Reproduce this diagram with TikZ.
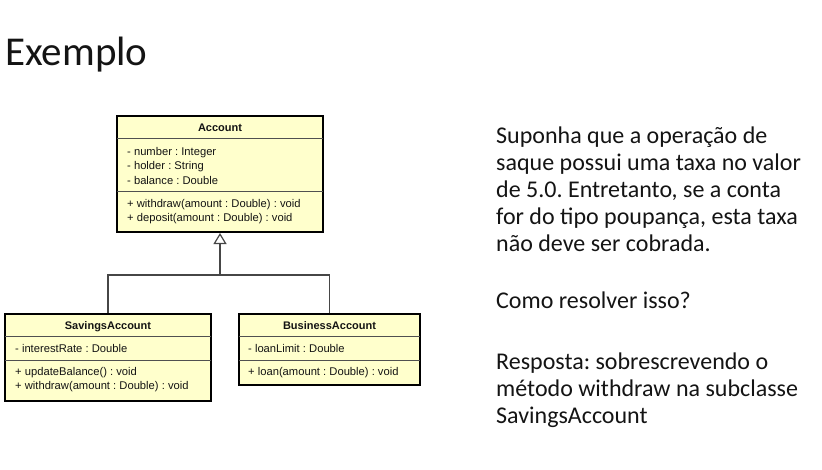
\documentclass[tikz,border=0pt]{standalone}
\usepackage{fontspec}
\setmainfont{Carlito}
\newfontfamily\umlfont{Liberation Sans}
\usetikzlibrary{arrows.meta}
\definecolor{umlfill}{RGB}{255,255,204}
\definecolor{umlsep}{RGB}{80,80,80}
\definecolor{conn}{RGB}{70,70,70}
\definecolor{txt}{RGB}{20,20,20}
\frenchspacing
\begin{document}
\begin{tikzpicture}[x=1pt,y=-1pt,
  classbox/.style={draw=black, line width=2pt, fill=umlfill, anchor=north west, inner sep=0pt},
  sepline/.style={draw=umlsep, line width=1pt},
  member/.style={anchor=base west, inner sep=0pt, font=\umlfont\fontsize{11.2}{13}\selectfont, text=txt},
  header/.style={anchor=base, inner sep=0pt, font=\umlfont\bfseries\fontsize{11}{13}\selectfont, text=txt},
  body/.style={anchor=base west, inner sep=0pt, font=\fontsize{24}{27}\selectfont, text=txt},
  genline/.style={draw=conn, line width=1.2pt},
  genarrow/.style={genline, -{Triangle[open, length=11pt, width=13pt, line width=1.2pt]}}
]
\fill[white] (0,0) rectangle (822,469);
\useasboundingbox (0,0) rectangle (822,469);

% title
\node[anchor=base west, inner sep=0pt, font=\fontsize{41}{48}\selectfont, text=txt] (title) at (5,65) {Exemplo};

% Account
\node[classbox, minimum width=206pt, minimum height=116pt] (acc) at (116,115) {};
\draw[sepline] ([xshift=1pt]acc.west |- 0,138) -- ([xshift=-1pt]acc.east |- 0,138);
\draw[sepline] ([xshift=1pt]acc.west |- 0,191) -- ([xshift=-1pt]acc.east |- 0,191);
\node[header] (acch) at (acc.north |- 0,131) {Account};
\node[member] (a1) at (127,155) {- number : Integer};
\node[member] (a2) at (127,169) {- holder : String};
\node[member] (a3) at (127,184) {- balance : Double};
\node[member] (a4) at (127,207) {+ withdraw(amount : Double) : void};
\node[member] (a5) at (127,221) {+ deposit(amount : Double) : void};

% SavingsAccount
\node[classbox, minimum width=206pt, minimum height=87pt] (sav) at (4,313) {};
\draw[sepline] ([xshift=1pt]sav.west |- 0,336) -- ([xshift=-1pt]sav.east |- 0,336);
\draw[sepline] ([xshift=1pt]sav.west |- 0,360) -- ([xshift=-1pt]sav.east |- 0,360);
\node[header] (savh) at (sav.north |- 0,329) {SavingsAccount};
\node[member] (s1) at (15,352) {- interestRate : Double};
\node[member] (s2) at (15,375) {+ updateBalance() : void};
\node[member] (s3) at (15,389) {+ withdraw(amount : Double) : void};

% BusinessAccount
\node[classbox, minimum width=181pt, minimum height=71pt] (bus) at (238,313) {};
\draw[sepline] ([xshift=1pt]bus.west |- 0,336) -- ([xshift=-1pt]bus.east |- 0,336);
\draw[sepline] ([xshift=1pt]bus.west |- 0,360) -- ([xshift=-1pt]bus.east |- 0,360);
\node[header] (bush) at (bus.north |- 0,329) {BusinessAccount};
\node[member] (b1) at (248,352) {- loanLimit : Double};
\node[member] (b2) at (248,375) {+ loan(amount : Double) : void};

% generalization
\coordinate (j) at (acc.south |- 0,275);
\draw[genarrow] (sav.north) |- (j) -- (acc.south);
\draw[genline] (bus.north) |- (j);

% right text
\node[body] (t1) at (496,143) {Suponha que a operação de};
\node[body] (t2) at (496,170) {saque possui uma taxa no valor};
\node[body] (t3) at (496,197) {de 5.0. Entretanto, se a conta};
\node[body] (t4) at (496,224) {for do tipo poupança, esta taxa};
\node[body] (t5) at (496,251) {não deve ser cobrada.};
\node[body] (t6) at (496,308) {Como resolver isso?};
\node[body] (t7) at (496,369) {Resposta: sobrescrevendo o};
\node[body] (t8) at (496,396) {método withdraw na subclasse};
\node[body] (t9) at (496,423) {SavingsAccount};
\end{tikzpicture}
\end{document}
